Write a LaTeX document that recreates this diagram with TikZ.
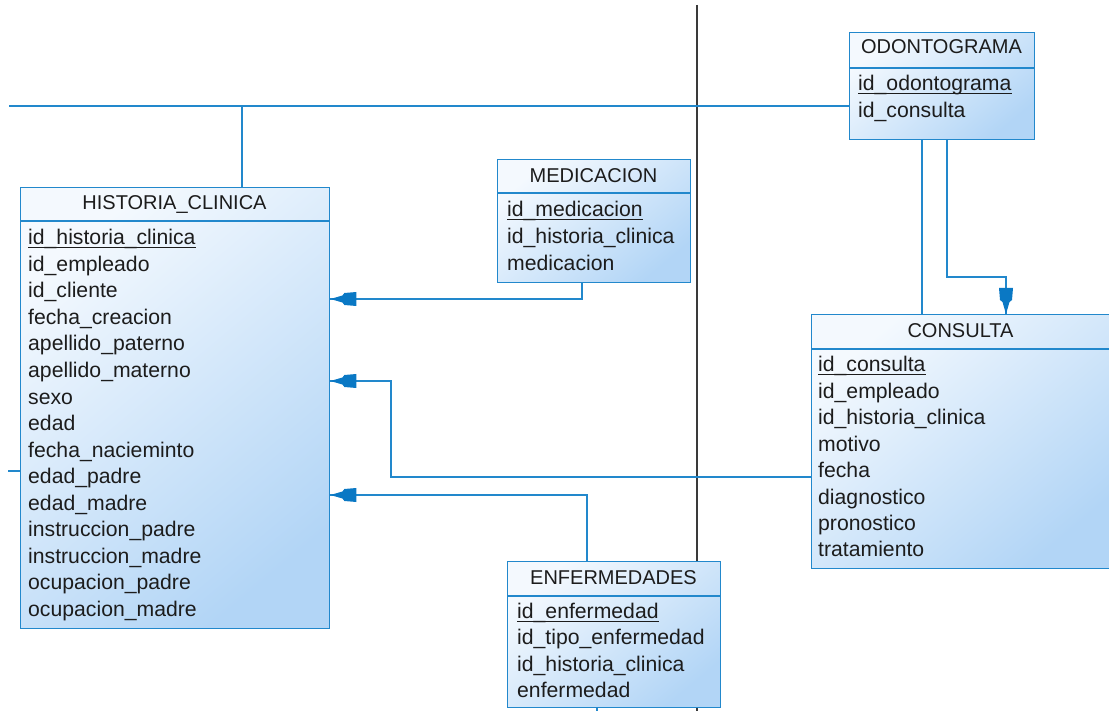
\documentclass[tikz,border=0pt]{standalone}
\usepackage{fontspec}
\setmainfont{Liberation Sans}
\definecolor{relblue}{HTML}{2288CC}
\definecolor{headblue}{HTML}{0A78C4}
\definecolor{boxlight}{HTML}{F4F9FE}
\definecolor{boxdark}{HTML}{B2D5F6}
\definecolor{txt}{HTML}{1C1C1C}
\definecolor{axis}{HTML}{3A3A3A}
\begin{document}
\begin{tikzpicture}[x=1pt,y=-1pt,
  tbl/.style={draw=relblue,line width=1.4pt,rectangle,anchor=north west,inner sep=0pt,
    top color=boxlight,bottom color=boxdark,shading angle=40},
  rel/.style={draw=relblue,line width=1.4pt},
  ttl/.style={anchor=base,inner sep=0pt,text=txt,font=\fontsize{20}{21}\selectfont},
  fld/.style={anchor=base west,inner sep=0pt,text=txt,font=\fontsize{21.2}{22}\selectfont},
  fkhead/.pic={\fill[headblue] (0,0) -- (12,-3.5) -- (14,-6) -- (26,-7) -- (26,7) -- (14,6) -- (12,3.5) -- cycle;}]
\useasboundingbox (0,0) rectangle (1109,711);

% dark divider running behind the tables
\draw[axis,line width=1.6pt] (697,5) -- (697,711);

% connectors
\draw[rel] (9,106) -- (849,106);
\draw[rel] (242,106) -- (242,187);
\draw[rel] (8,471) -- (20,471);
\draw[rel] (597,707) -- (597,711);

% tables
\node[tbl,minimum width=309pt,minimum height=441pt] (hc) at (20,187) {};
\node[tbl,minimum width=193pt,minimum height=123pt] (med) at (497,159) {};
\node[tbl,minimum width=185pt,minimum height=107pt] (odo) at (849,32) {};
\node[tbl,minimum width=301pt,minimum height=254pt] (con) at (811,314) {};
\node[tbl,minimum width=213pt,minimum height=146pt] (enf) at (507,561) {};

% header separators
\draw[rel] (20,221) -- (329,221);
\draw[rel] (497,193) -- (690,193);
\draw[rel] (849,68) -- (1034,68);
\draw[rel] (811,349) -- (1112,349);
\draw[rel] (507,596) -- (720,596);

% relationships
\draw[rel] (med.south -| 582,0) -- (582,299) -- (hc.east |- 0,299);
\pic at (hc.east |- 0,299) {fkhead};
\draw[rel] (con.west |- 0,477) -- (391,477) -- (391,381) -- (hc.east |- 0,381);
\pic at (hc.east |- 0,381) {fkhead};
\draw[rel] (enf.north -| 587,0) -- (587,495) -- (hc.east |- 0,495);
\pic at (hc.east |- 0,495) {fkhead};
\draw[rel] (odo.south -| 922,0) -- (con.north -| 922,0);
\draw[rel] (odo.south -| 947,0) -- (947,277) -- (1006,277) -- (con.north -| 1006,0);
\pic[rotate=90] at (con.north -| 1006,0) {fkhead};

% HISTORIA_CLINICA
\node[ttl] (hct) at (174.5,210) {HISTORIA\_CLINICA};
\node[fld] (hc1) at (28,245) {id\_historia\_clinica};
\draw[txt,line width=1pt] ([yshift=-3pt]hc1.base west) -- ([yshift=-3pt]hc1.base east);
\foreach \t [count=\i] in {id\_empleado,id\_cliente,fecha\_creacion,apellido\_paterno,apellido\_materno,sexo,edad,fecha\_nacieminto,edad\_padre,edad\_madre,instruccion\_padre,instruccion\_madre,ocupacion\_padre,ocupacion\_madre}
  \node[fld] (hcf\i) at (28,245+26.5*\i) {\t};

% MEDICACION
\node[ttl] (medt) at (593.5,183) {MEDICACION};
\node[fld] (med1) at (507,217) {id\_medicacion};
\draw[txt,line width=1pt] ([yshift=-3pt]med1.base west) -- ([yshift=-3pt]med1.base east);
\node[fld] (med2) at (507,244) {id\_historia\_clinica};
\node[fld] (med3) at (507,271) {medicacion};

% ODONTOGRAMA
\node[ttl] (odot) at (941.5,54) {ODONTOGRAMA};
\node[fld] (odo1) at (858,91) {id\_odontograma};
\draw[txt,line width=1pt] ([yshift=-3pt]odo1.base west) -- ([yshift=-3pt]odo1.base east);
\node[fld] (odo2) at (858,118) {id\_consulta};

% CONSULTA
\node[ttl] (cont) at (960.5,338) {CONSULTA};
\node[fld] (con1) at (818,372) {id\_consulta};
\draw[txt,line width=1pt] ([yshift=-3pt]con1.base west) -- ([yshift=-3pt]con1.base east);
\foreach \t [count=\i] in {id\_empleado,id\_historia\_clinica,motivo,fecha,diagnostico,pronostico,tratamiento}
  \node[fld] (conf\i) at (818,372+26.4*\i) {\t};

% ENFERMEDADES
\node[ttl] (enft) at (613.5,584) {ENFERMEDADES};
\node[fld] (enf1) at (517,618) {id\_enfermedad};
\draw[txt,line width=1pt] ([yshift=-3pt]enf1.base west) -- ([yshift=-3pt]enf1.base east);
\foreach \t [count=\i] in {id\_tipo\_enfermedad,id\_historia\_clinica,enfermedad}
  \node[fld] (enff\i) at (517,618+26.5*\i) {\t};
\end{tikzpicture}
\end{document}
